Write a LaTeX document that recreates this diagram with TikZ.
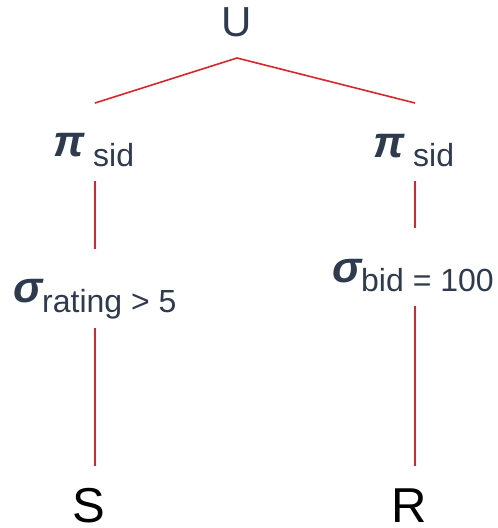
\documentclass[tikz,border=0pt]{standalone}
\usepackage{fontspec}
\setmainfont{Liberation Sans}
\usepackage{xcolor}
\definecolor{slate}{HTML}{2E3A4E}
\definecolor{edgered}{HTML}{D9262A}

\begin{document}
\begin{tikzpicture}[
    x=1pt, y=-1pt,
    lbl/.style={inner sep=0pt, anchor=base west, text=slate},
    rel/.style={lbl, text=black, font=\fontsize{49}{49}\selectfont},
    op/.style={lbl, font=\fontsize{44}{44}\selectfont\bfseries\itshape},
    sub/.style={lbl, font=\fontsize{32}{32}\selectfont},
    edge/.style={draw=edgered, line width=1.6pt}
]
\useasboundingbox (0,0) rectangle (498,528);

% Nodes
\node[lbl, anchor=base, font=\fontsize{42}{42}\selectfont] (union) at (237,36) {U};

\node[op] (projL) at (53,156) {π};
\node[sub] (projLsub) at (93,166) {sid};
\node[op] (projR) at (373,157) {π};
\node[sub] (projRsub) at (413,166) {sid};

\node[op] (selL) at (13,302) {σ};
\node[sub] (selLsub) at (42,312) {rating > 5};
\node[op] (selR) at (332,282) {σ};
\node[sub] (selRsub) at (361,291) {bid = 100};

\node[rel, anchor=base] (sailors) at (89,522) {S};
\node[rel, anchor=base] (reserves) at (409,522) {R};

% Edge end points
\coordinate (apex) at (237,58);
\coordinate (projLtop) at (95,103);
\coordinate (projRtop) at (415,103);
\coordinate (projLbot) at (95,181);
\coordinate (projRbot) at (415,181);
\coordinate (selLtop) at (95,249);
\coordinate (selRtop) at (415,228);
\coordinate (selLbot) at (95,328);
\coordinate (selRbot) at (415,306);
\coordinate (sailorsTop) at (95,466);
\coordinate (reservesTop) at (415,466);

% Edges
\draw[edge] (projLtop) -- (apex) -- (projRtop);
\draw[edge] (projLbot) -- (selLtop);
\draw[edge] (projRbot) -- (selRtop);
\draw[edge] (selLbot) -- (sailorsTop);
\draw[edge] (selRbot) -- (reservesTop);
\end{tikzpicture}
\end{document}
